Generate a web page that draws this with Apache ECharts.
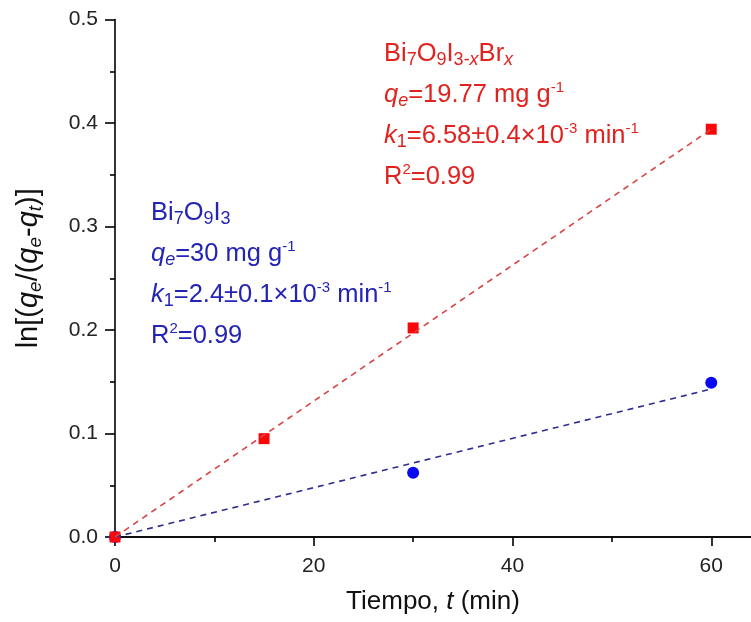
<!DOCTYPE html>
<html>
<head>
<meta charset="UTF-8">
<title>ln[qe/(qe-qt)] vs tiempo</title>
<script src="https://cdn.jsdelivr.net/npm/echarts@6/dist/echarts.min.js"></script>
<style>
    html, body { margin: 0; padding: 0; background: #fff; }
    #chart { width: 751px; height: 622px; }
</style>
</head>
<body>
<div id="chart"></div>
<script>
    // Bi7O9I3-xBrx (red squares)
    const timeRed = [0, 15, 30, 60];
    const valueRed = [0, 0.095, 0.202, 0.394];
    // Bi7O9I3 (blue circles)
    const timeBlue = [0, 30, 60];
    const valueBlue = [0, 0.062, 0.149];
    // linear fits
    const fitTime = [0, 60];
    const fitRed = [0, 0.394];
    const fitBlue = [0, 0.143];
    // x ticks (axis runs a little past 60)
    const xTicks = [0, 20, 40, 60];

    const pairs = (xs, ys) => xs.map((x, i) => [x, ys[i]]);

    const FONT = 'Liberation Sans, Arial, sans-serif';
    const RED = '#e0231f';
    const BLUE = '#2424b4';

    // rich text: sub/sup shifted with padding inside a 41px line
    function richStyles(color) {
        const base = {fontFamily: FONT, fill: color, lineHeight: 41};
        return {
            n: Object.assign({fontSize: 25.5}, base),
            i: Object.assign({fontSize: 25.5, fontStyle: 'italic'}, base),
            sub: Object.assign({fontSize: 18, padding: [12, 0, 0, 0]}, base),
            subi: Object.assign({fontSize: 18, fontStyle: 'italic', padding: [12, 0, 0, 0]}, base),
            sup: Object.assign({fontSize: 15, padding: [0, 0, 15, 0]}, base)
        };
    }

    const redText = [
        '{n|Bi}{sub|7}{n|O}{sub|9}{n|I}{sub|3-}{subi|x}{n|Br}{subi|x}',
        '{i|q}{subi|e}{n|=19.77 mg g}{sup|-1}',
        '{i|k}{sub|1}{n|=6.58±0.4×10}{sup|-3}{n| min}{sup|-1}',
        '{n|R}{sup|2}{n|=0.99}'
    ].join('\n');

    const blueText = [
        '{n|Bi}{sub|7}{n|O}{sub|9}{n|I}{sub|3}',
        '{i|q}{subi|e}{n|=30 mg g}{sup|-1}',
        '{i|k}{sub|1}{n|=2.4±0.1×10}{sup|-3}{n| min}{sup|-1}',
        '{n|R}{sup|2}{n|=0.99}'
    ].join('\n');

    const axisRich = {
        n: {fontSize: 29, fontFamily: FONT, color: '#111', lineHeight: 40},
        i: {fontSize: 29, fontFamily: FONT, color: '#111', lineHeight: 40, fontStyle: 'italic'},
        subi: {fontSize: 19, fontFamily: FONT, color: '#111', lineHeight: 40, fontStyle: 'italic', padding: [13, 0, 0, 0]}
    };

    const chart = echarts.init(document.getElementById('chart'));
    const option = {
        animation: false,
        grid: {left: 115, top: 19.5, right: -2, bottom: 85},
        xAxis: [{
            type: 'value',
            min: 0,
            max: 64,
            interval: 20,
            name: '{n|Tiempo, }{i|t}{n| (min)}',
            nameLocation: 'middle',
            nameGap: 52,
            nameTextStyle: {
                rich: {
                    n: {fontSize: 26, fontFamily: FONT, color: '#111'},
                    i: {fontSize: 26, fontFamily: FONT, color: '#111', fontStyle: 'italic'}
                }
            },
            axisLine: {show: true, onZero: false, lineStyle: {color: '#000', width: 1.6}},
            axisTick: {show: true, inside: false, length: 9, customValues: xTicks, lineStyle: {color: '#000', width: 1.6}},
            minorTick: {show: true, splitNumber: 2, length: 5, lineStyle: {color: '#000', width: 1.6}},
            axisLabel: {fontSize: 21, fontFamily: FONT, color: '#222', margin: 19, customValues: xTicks},
            splitLine: {show: false}
        }, {
            type: 'value',
            position: 'top',
            min: 0,
            max: 64,
            axisLine: {show: true, lineStyle: {color: '#000', width: 1.6}},
            axisTick: {show: false},
            axisLabel: {show: false},
            splitLine: {show: false}
        }],
        yAxis: {
            type: 'value',
            min: 0,
            max: 0.5,
            interval: 0.1,
            name: '{n|ln[(}{i|q}{subi|e}{n|/(}{i|q}{subi|e}{n|-}{i|q}{subi|t}{n|)]}',
            nameLocation: 'middle',
            nameGap: 66,
            nameTextStyle: {padding: [0, 0, 0, 20], rich: axisRich},
            axisLine: {show: true, lineStyle: {color: '#000', width: 1.6}},
            axisTick: {show: true, inside: false, length: 10, lineStyle: {color: '#000', width: 1.6}},
            minorTick: {show: true, splitNumber: 2, length: 5, lineStyle: {color: '#000', width: 1.6}},
            axisLabel: {
                fontSize: 21, fontFamily: FONT, color: '#222', margin: 17,
                formatter: v => v.toFixed(1)
            },
            splitLine: {show: false}
        },
        graphic: [
            {type: 'text', left: 384, top: 39, style: {text: redText, rich: richStyles(RED)}},
            {type: 'text', left: 151, top: 198, style: {text: blueText, rich: richStyles(BLUE)}}
        ],
        series: [
            {
                type: 'line',
                data: pairs(fitTime, fitBlue),
                showSymbol: false,
                lineStyle: {color: '#2d2d8e', width: 1.6, type: [6, 5]},
                silent: true
            },
            {
                type: 'line',
                data: pairs(fitTime, fitRed),
                showSymbol: false,
                lineStyle: {color: '#d84444', width: 1.6, type: [6, 5]},
                silent: true
            },
            {
                type: 'scatter',
                data: pairs(timeBlue, valueBlue),
                symbol: 'circle',
                symbolSize: 12,
                itemStyle: {color: '#0808f4', opacity: 1}
            },
            {
                type: 'scatter',
                data: pairs(timeRed, valueRed),
                symbol: 'rect',
                symbolSize: 11,
                itemStyle: {color: '#f80808', opacity: 1}
            }
        ]
    };
    chart.setOption(option);
</script>
</body>
</html>
